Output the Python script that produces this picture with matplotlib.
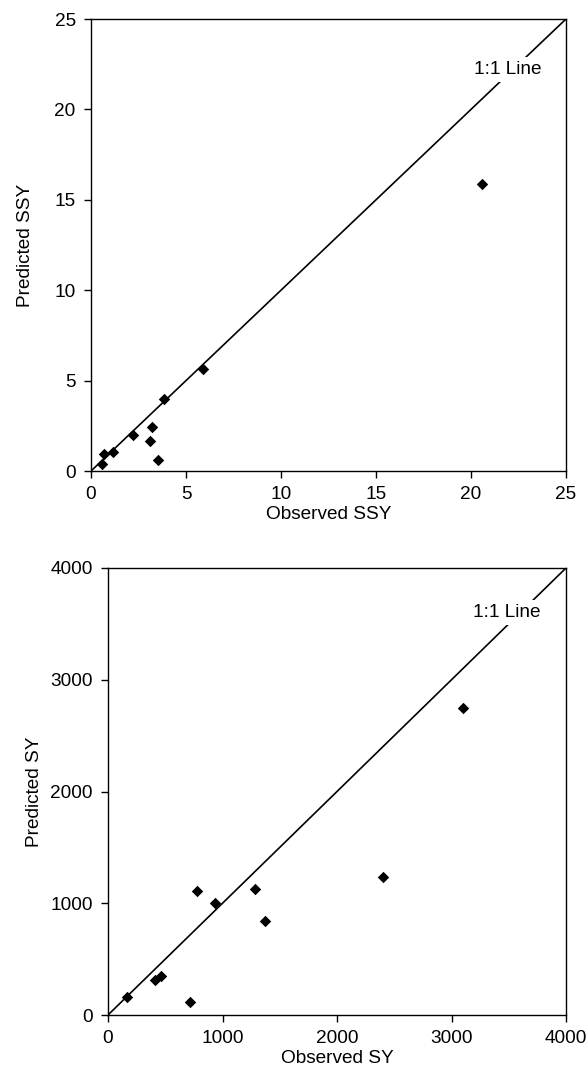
import matplotlib
matplotlib.use("Agg")
import matplotlib.pyplot as plt

plt.rcParams['font.family'] = ['Liberation Sans', 'DejaVu Sans']

# Top panel: suspended sediment yield
ssy_observed = [0.56, 0.70, 1.18, 2.23, 3.19, 3.11, 3.53, 3.82, 5.89, 20.58]
ssy_predicted = [0.37, 0.96, 1.05, 1.97, 2.42, 1.64, 0.63, 4.00, 5.65, 15.90]
ssy_ticks = [0, 5, 10, 15, 20, 25]

# Bottom panel: sediment yield
sy_observed = [170, 411, 464, 717, 775, 935, 1280, 1372, 2404, 3103]
sy_predicted = [164, 313, 349, 116, 1113, 1005, 1125, 842, 1238, 2746]
sy_ticks = [0, 1000, 2000, 3000, 4000]

FS = 13.7

fig = plt.figure(figsize=(5.88, 10.81), dpi=100)
ax1 = fig.add_axes([91/588, 1-471/1081, 475/588, 452/1081])
ax2 = fig.add_axes([108/588, 1-1015/1081, 458/588, 447/1081])

def style(ax, ticks, obs, pred, xlabel, ylabel, txt_xy, ylpad):
    lim = ticks[-1]
    ax.plot([0, lim], [0, lim], color='black', lw=1.2, zorder=1)
    ax.scatter(obs, pred, marker='D', s=34, color='black', zorder=3, linewidths=0)
    ax.text(txt_xy[0], txt_xy[1], '1:1 Line', ha='center', va='center', fontsize=FS,
            bbox=dict(facecolor='white', edgecolor='none', pad=3), zorder=2)
    ax.set_xlim(0, lim)
    ax.set_ylim(0, lim)
    ax.set_xticks(ticks)
    ax.set_yticks(ticks)
    ax.tick_params(direction='out', length=5, width=1, labelsize=FS, pad=6, colors='black')
    for s in ax.spines.values():
        s.set_linewidth(1.0)
        s.set_color('black')
    ax.set_xlabel(xlabel, fontsize=FS, labelpad=2)
    ax.set_ylabel(ylabel, fontsize=FS, labelpad=ylpad)

style(ax1, ssy_ticks, ssy_observed, ssy_predicted, 'Observed SSY', 'Predicted SSY', (21.95, 22.2), 15)
style(ax2, sy_ticks, sy_observed, sy_predicted, 'Observed SY', 'Predicted SY', (3483, 3599), 5)

fig.savefig('out.png', dpi=100)
